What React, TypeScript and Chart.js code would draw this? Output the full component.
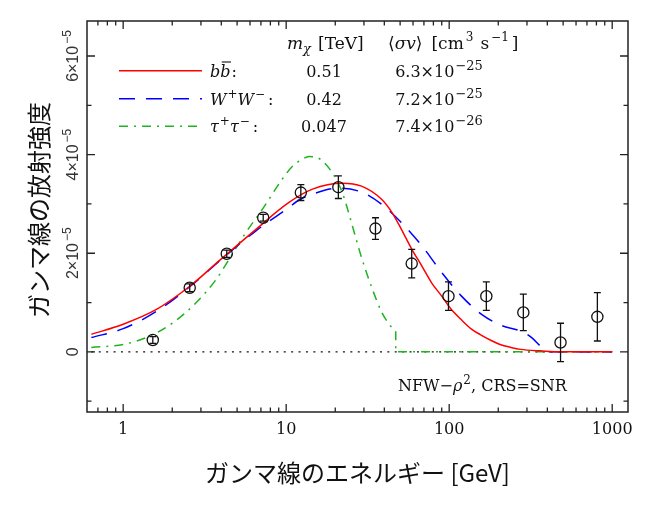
import React, { useEffect, useRef } from 'react';
import { Chart, registerables } from 'chart.js';

Chart.register(...registerables);

// measured points: gamma-ray energy [GeV], intensity in units of 1e-5
const pointEnergy = [1.52, 2.56, 4.32, 7.23, 12.3, 20.9, 35.3, 58.9, 99, 169, 285, 482, 811];
const pointFlux = [0.24, 1.30, 1.99, 2.72, 3.23, 3.34, 2.50, 1.79, 1.13, 1.13, 0.80, 0.19, 0.71];
const pointErr = [0.07, 0.08, 0.075, 0.07, 0.16, 0.23, 0.22, 0.29, 0.29, 0.29, 0.37, 0.39, 0.49];

// b bbar model
const bbEnergy = [0.638, 1.0, 1.6, 2.56, 4.08, 6.5, 10.4, 14.5, 22, 29, 38.6, 44.5, 51, 59, 68, 78, 90, 102, 118, 137, 155, 181, 205, 239, 274, 362, 510, 1000];
const bbFlux = [0.355, 0.56, 0.86, 1.33, 1.91, 2.48, 3.03, 3.30, 3.42, 3.36, 3.09, 2.83, 2.48, 2.08, 1.74, 1.40, 1.13, 0.88, 0.66, 0.46, 0.35, 0.23, 0.15, 0.09, 0.05, 0.02, 0, 0];

// W+W- model
const wwEnergy = [0.638, 1.0, 1.6, 2.56, 4.08, 6.5, 10.4, 12, 14.5, 21, 29, 38.6, 51, 68, 90, 119, 158, 208, 274, 318, 362, 400, 420, 1000];
const wwFlux = [0.29, 0.47, 0.82, 1.32, 1.90, 2.45, 2.93, 3.08, 3.20, 3.32, 3.24, 2.99, 2.62, 2.15, 1.61, 1.13, 0.76, 0.54, 0.42, 0.30, 0.12, 0.02, 0, 0];

// tau+tau- model (cut-off at the mass, then zero)
const ttEnergy = [0.638, 1.0, 1.46, 2.02, 2.81, 3.72, 4.47, 5.66, 7.14, 9.45, 10.9, 12.5, 13.8, 15.5, 16.7, 19.2, 22.1, 25.5, 29.2, 33.8, 38.6, 44.5, 47];
const ttFlux = [0.09, 0.15, 0.32, 0.59, 1.0, 1.47, 1.88, 2.42, 2.89, 3.5, 3.76, 3.90, 3.96, 3.94, 3.87, 3.63, 3.23, 2.55, 1.88, 1.27, 0.80, 0.49, 0.42];
const ttTailEnergy = [47, 47, 1000];
const ttTailFlux = [0.42, 0, 0];

const zeroEnergy = [0.638, 1000];
const zeroFlux = [0, 0];

const X_MIN = 0.638;
const X_MAX = 1250;
const Y_MIN = -1.22;
const Y_MAX = 6.71;

const xMajorTicks = [1, 10, 100, 1000];
const xTickLabels = ['1', '10', '100', '1000'];
const yMajorTicks = [0, 2, 4, 6];
const yTickLabels = ['0', '2×10', '4×10', '6×10'];
const yTickExp = ['', '−5', '−5', '−5'];
const yMinorTicks = [-1, 1, 3, 5];

const massLabels = ['0.51', '0.42', '0.047'];
const sigmaLabels = ['6.3×10', '7.2×10', '7.4×10'];
const sigmaExp = ['−25', '−25', '−26'];

const RED = '#ff0000';
const BLUE = '#0000ff';
const GREEN = '#1fb31f';
const GREEN_DASH = [9, 6, 2, 6];
const BLUE_DASH = [16, 11];

const SERIF = '"DejaVu Serif", "Liberation Serif", serif';
const SANS = '"Liberation Sans", Arial, sans-serif';
const CJK = '"Noto Sans CJK JP", "Noto Sans", sans-serif';

type Run = { t: string; size?: number; italic?: boolean; dy?: number; dx?: number };

const runFont = (r: Run, family: string, size: number) =>
  `${r.italic ? 'italic ' : ''}${r.size ?? size}px ${family}`;

function drawRuns(ctx: CanvasRenderingContext2D, runs: Run[], x: number, y: number, align: string, family: string, size: number) {
  ctx.textAlign = 'left';
  ctx.textBaseline = 'alphabetic';
  const widths = runs.map((r) => {
    ctx.font = runFont(r, family, size);
    return ctx.measureText(r.t).width + (r.dx ?? 0);
  });
  const total = widths.reduce((a, b) => a + b, 0);
  let cx = align === 'center' ? x - total / 2 : x;
  const starts: number[] = [];
  runs.forEach((r, i) => {
    ctx.font = runFont(r, family, size);
    starts.push(cx + (r.dx ?? 0));
    ctx.fillText(r.t, cx + (r.dx ?? 0), y + (r.dy ?? 0));
    cx += widths[i];
  });
  return starts;
}

const sup = (t: string): Run => ({ t, size: 12, dy: -7, dx: 1 });

const framePlugin = {
  id: 'frame',
  afterDatasetsDraw(chart: any) {
    const { ctx, scales } = chart;
    const xs = scales.x;
    const ys = scales.y;
    ctx.save();
    ctx.strokeStyle = '#111';
    ctx.lineWidth = 1.3;
    ctx.setLineDash([]);
    pointEnergy.forEach((e, i) => {
      const px = xs.getPixelForValue(e);
      const top = ys.getPixelForValue(pointFlux[i] + pointErr[i]);
      const bot = ys.getPixelForValue(pointFlux[i] - pointErr[i]);
      ctx.beginPath();
      ctx.moveTo(px, top);
      ctx.lineTo(px, bot);
      ctx.moveTo(px - 3.5, top);
      ctx.lineTo(px + 3.5, top);
      ctx.moveTo(px - 3.5, bot);
      ctx.lineTo(px + 3.5, bot);
      ctx.stroke();
    });
    ctx.restore();
  },
  afterDraw(chart: any) {
    const { ctx, chartArea, scales } = chart;
    const { left, right, top, bottom } = chartArea;
    const xs = scales.x;
    const ys = scales.y;
    ctx.save();
    ctx.setLineDash([]);
    ctx.strokeStyle = '#222';
    ctx.fillStyle = '#111';

    // frame
    ctx.lineWidth = 1.5;
    ctx.strokeRect(left, top, right - left, bottom - top);

    // inward ticks
    ctx.lineWidth = 1.3;
    const xMinor: number[] = [];
    for (let d = 0.1; d < X_MAX; d *= 10) {
      for (let k = 2; k <= 9; k++) {
        const v = d * k;
        if (v > X_MIN && v < X_MAX) xMinor.push(v);
      }
    }
    ctx.beginPath();
    xMajorTicks.forEach((v) => {
      const px = xs.getPixelForValue(v);
      ctx.moveTo(px, bottom); ctx.lineTo(px, bottom - 8);
      ctx.moveTo(px, top); ctx.lineTo(px, top + 8);
    });
    xMinor.forEach((v) => {
      const px = xs.getPixelForValue(v);
      ctx.moveTo(px, bottom); ctx.lineTo(px, bottom - 4.5);
      ctx.moveTo(px, top); ctx.lineTo(px, top + 4.5);
    });
    yMajorTicks.forEach((v) => {
      const py = ys.getPixelForValue(v);
      ctx.moveTo(left, py); ctx.lineTo(left + 8, py);
      ctx.moveTo(right, py); ctx.lineTo(right - 8, py);
    });
    yMinorTicks.forEach((v) => {
      const py = ys.getPixelForValue(v);
      ctx.moveTo(left, py); ctx.lineTo(left + 4.5, py);
      ctx.moveTo(right, py); ctx.lineTo(right - 4.5, py);
    });
    ctx.stroke();

    // x tick labels
    xMajorTicks.forEach((v, i) => {
      drawRuns(ctx, [{ t: xTickLabels[i] }], xs.getPixelForValue(v), 434, 'center', SERIF, 16);
    });

    // y tick labels (rotated)
    ctx.fillStyle = '#333';
    yMajorTicks.forEach((v, i) => {
      const py = ys.getPixelForValue(v);
      ctx.save();
      ctx.translate(72, py);
      ctx.rotate(-Math.PI / 2);
      const runs: Run[] = [{ t: yTickLabels[i] }];
      if (yTickExp[i]) runs.push({ t: yTickExp[i], size: 12, dy: -7, dx: 2 });
      drawRuns(ctx, runs, 0, 5.8, 'center', SANS, 16);
      ctx.restore();
    });

    // axis titles
    ctx.fillStyle = '#111';
    ctx.font = `24px ${CJK}`;
    ctx.textAlign = 'center';
    ctx.textBaseline = 'middle';
    ctx.fillText('ガンマ線のエネルギー [GeV]', (left + right) / 2, 473);
    ctx.save();
    ctx.translate(39, 210);
    ctx.rotate(-Math.PI / 2);
    ctx.fillText('ガンマ線の放射強度', 0, 0);
    ctx.restore();

    // legend header
    drawRuns(ctx, [{ t: 'm', italic: true }, { t: 'χ', italic: true, size: 13, dy: 4 }, { t: '[TeV]', dx: 7 }], 287, 48.5, 'left', SERIF, 17);
    drawRuns(ctx, [
      { t: '⟨' }, { t: 'σv', italic: true }, { t: '⟩' }, { t: '[cm', dx: 9 }, { t: '3', size: 12, dy: -8, dx: 2 },
      { t: 's', dx: 7 }, { t: '−1', size: 12, dy: -8, dx: 2 }, { t: ']', dx: 3 },
    ], 388, 48.5, 'left', SERIF, 17);

    // legend rows
    const rowY = [70.7, 98.7, 126.3];
    ctx.lineWidth = 1.5;
    const samples = [
      { color: RED, dash: [] as number[] },
      { color: BLUE, dash: BLUE_DASH },
      { color: GREEN, dash: GREEN_DASH },
    ];
    samples.forEach((s, i) => {
      ctx.strokeStyle = s.color;
      ctx.setLineDash(s.dash);
      ctx.beginPath();
      ctx.moveTo(119, rowY[i]);
      ctx.lineTo(202, rowY[i]);
      ctx.stroke();
    });
    ctx.setLineDash([]);

    const base = rowY.map((y) => y + 5.8);
    const bb = drawRuns(ctx, [{ t: 'b', italic: true }, { t: 'b', italic: true }, { t: ':', dx: 1 }], 210, base[0], 'left', SERIF, 16);
    ctx.strokeStyle = '#111';
    ctx.lineWidth = 1.1;
    ctx.beginPath();
    ctx.moveTo(bb[1] + 1.5, base[0] - 14.5);
    ctx.lineTo(bb[2] - 0.5, base[0] - 14.5);
    ctx.stroke();
    drawRuns(ctx, [{ t: 'W', italic: true }, sup('+'), { t: 'W', italic: true }, sup('−'), { t: ':', dx: 3 }], 210, base[1], 'left', SERIF, 16);
    drawRuns(ctx, [{ t: 'τ', italic: true }, sup('+'), { t: 'τ', italic: true }, sup('−'), { t: ':', dx: 3 }], 210, base[2], 'left', SERIF, 16);

    massLabels.forEach((m, i) => {
      drawRuns(ctx, [{ t: m }], 324, base[i], 'center', SERIF, 16);
      drawRuns(ctx, [{ t: sigmaLabels[i] }, { t: sigmaExp[i], size: 13, dy: -7, dx: 1 }], 439, base[i], 'center', SERIF, 16);
    });

    // annotation
    drawRuns(ctx, [{ t: 'NFW−' }, { t: 'ρ', italic: true }, sup('2'), { t: ', CRS=SNR' }], 398, 391, 'left', SERIF, 16);

    ctx.restore();
  },
};

const toXY = (xs: number[], ys: number[]) => xs.map((x, i) => ({ x, y: ys[i] }));

export default function App() {
  const canvasRef = useRef<HTMLCanvasElement>(null);

  useEffect(() => {
    const canvas = canvasRef.current;
    if (!canvas) return;
    const line = { showLine: true, pointRadius: 0, borderWidth: 1.5, fill: false };
    const chart = new Chart(canvas, {
      type: 'scatter',
      data: {
        datasets: [
          {
            label: 'data', data: toXY(pointEnergy, pointFlux), showLine: false,
            pointRadius: 5.6, pointBorderWidth: 1.3, pointBorderColor: '#111',
            pointBackgroundColor: 'rgba(0,0,0,0)', order: 0,
          },
          { ...line, label: 'bb', data: toXY(bbEnergy, bbFlux), borderColor: RED, cubicInterpolationMode: 'monotone', order: 1 },
          { ...line, label: 'WW', data: toXY(wwEnergy, wwFlux), borderColor: BLUE, borderDash: BLUE_DASH, cubicInterpolationMode: 'monotone', order: 2 },
          { ...line, label: 'tt', data: toXY(ttEnergy, ttFlux), borderColor: GREEN, borderDash: GREEN_DASH, cubicInterpolationMode: 'monotone', order: 3 },
          { ...line, label: 'tt tail', data: toXY(ttTailEnergy, ttTailFlux), borderColor: GREEN, borderDash: GREEN_DASH, tension: 0, order: 3 },
          { ...line, label: 'zero', data: toXY(zeroEnergy, zeroFlux), borderColor: '#111', borderWidth: 1.3, borderDash: [2, 5.4], tension: 0, order: 4 },
        ] as any,
      },
      options: {
        animation: false,
        responsive: false,
        events: [],
        layout: { padding: { left: 87, right: 22, top: 21, bottom: 101 } },
        plugins: { legend: { display: false }, tooltip: { enabled: false } },
        scales: {
          x: { type: 'logarithmic', min: X_MIN, max: X_MAX, display: false },
          y: { type: 'linear', min: Y_MIN, max: Y_MAX, display: false },
        },
      },
      plugins: [framePlugin],
    });
    return () => chart.destroy();
  }, []);

  return (
    <div style={{ position: 'fixed', left: 0, top: 0, width: 650, height: 513, background: '#fff' }}>
      <canvas ref={canvasRef} width={650} height={513} style={{ display: 'block', width: 650, height: 513 }} />
    </div>
  );
}
